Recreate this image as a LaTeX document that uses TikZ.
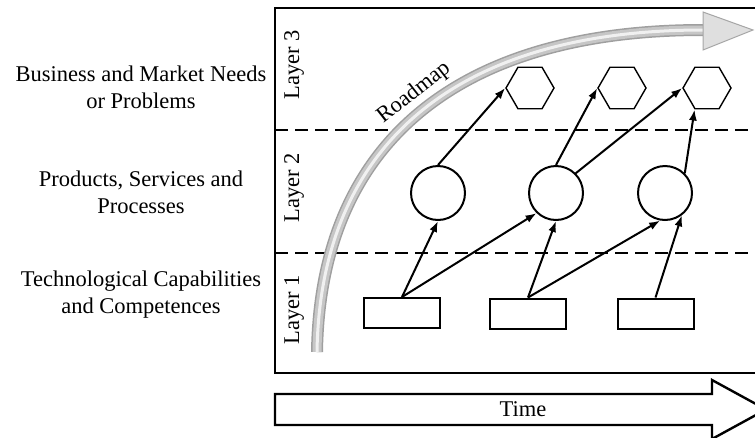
\documentclass[tikz,border=0pt]{standalone}
\usepackage{fontspec}
\setmainfont{Liberation Serif}
\usetikzlibrary{shapes.geometric,arrows.meta}

\begin{document}
\begin{tikzpicture}[x=1pt,y=-1pt,
			need/.style={regular polygon,regular polygon sides=6,draw,line width=1.4pt,minimum size=48pt},
			prod/.style={circle,draw,line width=2pt,minimum size=54pt},
			tech/.style={rectangle,draw,line width=2pt,minimum width=76pt,minimum height=30pt},
			link/.style={-{Latex[length=11pt,width=8pt]},line width=2pt},
			sep/.style={line width=2pt,dash pattern=on 13pt off 7pt},
			layer/.style={rotate=90,font=\fontsize{22.5}{27}\selectfont},
			lab/.style={align=center,font=\fontsize{22.5}{27}\selectfont},
			inner sep=0pt]
			\clip (0,0) rectangle (755,437);
			\node [lab] (NeedTxt) at (141,87)	{Business and Market Needs\\or Problems};
			\node [lab] (ProdTxt) at (141,192)	{Products, Services and\\Processes};
			\node [lab] (TechTxt) at (141,295)	{Technological Capabilities\\and Competences};
			\draw [line width=2.4pt] (275,8) rectangle (800,373);
			\coordinate (SepA) at (275,130); \coordinate (SepB) at (275,253);
			\draw [sep] (SepA) -- ++(500,0);
			\draw [sep] (SepB) -- ++(500,0);
			\node [layer] (L3) at (294,65)	{Layer 3};
			\node [layer] (L2) at (294,188)	{Layer 2};
			\node [layer] (L1) at (294,310)	{Layer 1};
			\draw [line width=12pt,gray!75] (317,352) .. controls (320,150) and (450,30) .. (703,30);
			\draw [line width=9pt,gray!45] (317,352) .. controls (320,150) and (450,30) .. (703,30);
			\draw [line width=3pt,gray!12] (317,352) .. controls (320,150) and (450,30) .. (703,30);
			\draw [gray!70,fill=gray!25,line width=1pt] (703,12) -- (753,30) -- (703,50) -- cycle;
			\node [lab,rotate=38] (Road) at (414,93)	{Roadmap};
			\node [need]	(Need1)	at (530,88)	{};
			\node [need]	(Need2)	at (622,88)	{};
			\node [need]	(Need3)	at (707,88)	{};
			\node [prod]	(Prod1)	at (438,193)	{};
				\draw [link] (Prod1.north) -- (Need1.corner 3);
			\node [prod]	(Prod2)	at (556,193)	{};
				\draw [link] (Prod2.north) -- (Need2.corner 3);
				\draw [link] (Prod2.45) -- (Need3.corner 3);
			\node [prod]	(Prod3)	at (665,193)	{};
				\draw [link] (Prod3.45) -- (Need3.corner 4);
			\node [tech]	(Tech1)	at (402,313)	{};
				\draw [link] (Tech1.north) -- (Prod1.south);
				\draw [link] (Tech1.north) -- (Prod2.-134);
			\node [tech]	(Tech2)	at (528,313.5)	{};
				\draw [link] (Tech2.north) -- (Prod2.south);
				\draw [link] (Tech2.north) -- (Prod3.-100);
			\node [tech]	(Tech3)	at (655.5,313.5)	{};
				\draw [link] (Tech3.north) -- (Prod3.-53);
			\draw [line width=2.4pt] (275,394) -- (712,394) -- (712,380) -- (766,409.5) -- (712,439) -- (712,425) -- (275,425) -- cycle;
			\node [lab] (Time) at (523,409)	{Time};
		\end{tikzpicture}
\end{document}
